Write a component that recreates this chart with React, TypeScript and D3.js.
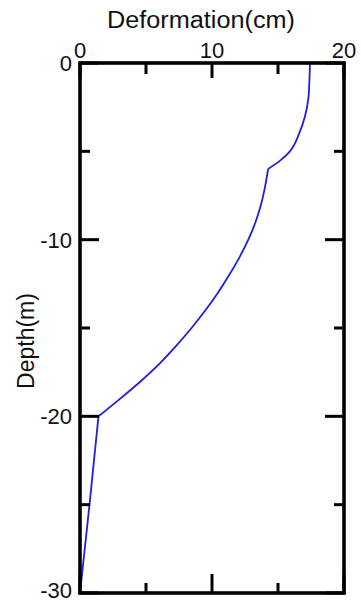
import React, { useEffect } from 'react'
import { scaleLinear, line, curveMonotoneY, curveLinear } from 'd3'

// depth (m) and horizontal deformation (cm)
const depths = [0, -1, -2, -3, -4, -5, -5.5, -6, -7, -8, -9, -10, -11, -12, -13, -14, -15, -16, -17, -18, -19, -20, -25, -30]
const deformation = [17.42, 17.38, 17.3, 17.05, 16.6, 15.9, 15.2, 14.25, 14.02, 13.72, 13.3, 12.75, 12.08, 11.3, 10.45, 9.5, 8.45, 7.3, 6.05, 4.62, 3.05, 1.4, 0.72, 0]

// depths where the profile changes slope abruptly (layer boundaries)
const breakDepths = [-6, -20]

const xTickLabels = [0, 10, 20]
const yTickLabels = [0, -10, -20, -30]

const xTitle = 'Deformation(cm)'
const yTitle = 'Depth(m)'

type Pt = { depth: number; def: number }

function App() {
  useEffect(() => {
    document.body.style.margin = '0'
  }, [])

  const width = 361
  const height = 604
  const margin = { top: 63, right: 17, bottom: 11, left: 80 }

  const xScale = scaleLinear().domain([0, 20]).range([margin.left, width - margin.right])
  const yScale = scaleLinear().domain([0, -30]).range([margin.top, height - margin.bottom])

  const points: Pt[] = depths.map((d, i) => ({ depth: d, def: deformation[i] }))

  // split at the break depths so the kinks stay sharp
  const segments: Pt[][] = []
  let cur: Pt[] = []
  points.forEach(p => {
    cur.push(p)
    if (breakDepths.includes(p.depth)) {
      segments.push(cur)
      cur = [p]
    }
  })
  if (cur.length > 1) segments.push(cur)

  const smooth = line<Pt>().x(d => xScale(d.def)).y(d => yScale(d.depth)).curve(curveMonotoneY)
  const straight = line<Pt>().x(d => xScale(d.def)).y(d => yScale(d.depth)).curve(curveLinear)

  const x0 = xScale(0), x1 = xScale(20)
  const y0 = yScale(0), y1 = yScale(-30)

  const xMinor = xScale.ticks(4) // 0,5,10,15,20
  const yMinor = yScale.ticks(6) // 0,-5,...,-30

  const font = 'Arial, "Liberation Sans", sans-serif'
  const axisStroke = '#000'
  const sw = 3.6

  return (
    <svg width={width} height={height} style={{ display: 'block', background: '#fff' }}>
      {/* curve */}
      <g fill="none" stroke="#1f1fe0" strokeWidth={1.8} strokeLinejoin="round">
        {segments.map((s, i) => (
          <path key={i} d={(i === segments.length - 1 ? straight(s) : smooth(s)) || ''} />
        ))}
      </g>

      {/* ticks */}
      <g stroke={axisStroke} strokeWidth={3}>
        {xMinor.map(t => {
          const major = t % 10 === 0
          return (
            <g key={'x' + t}>
              <line x1={xScale(t)} x2={xScale(t)} y1={y0} y2={y0 + (major ? 15 : 11)} />
              <line x1={xScale(t)} x2={xScale(t)} y1={y1} y2={y1 - (major ? 19 : 10)} />
            </g>
          )
        })}
        {yMinor.map(t => {
          const major = t % 10 === 0
          return (
            <g key={'y' + t}>
              <line x1={x0} x2={x0 + (major ? 19 : 10)} y1={yScale(t)} y2={yScale(t)} />
              <line x1={x1} x2={x1 - (major ? 19 : 10)} y1={yScale(t)} y2={yScale(t)} />
            </g>
          )
        })}
      </g>

      {/* frame */}
      <rect x={x0} y={y0} width={x1 - x0} height={y1 - y0} fill="none" stroke={axisStroke} strokeWidth={sw} />

      {/* tick labels */}
      <g fontFamily={font} fontSize={22} fill="#111">
        {xTickLabels.map(t => (
          <text key={'xl' + t} x={xScale(t)} y={58} textAnchor="middle">{t}</text>
        ))}
        {yTickLabels.map(t => (
          <text key={'yl' + t} x={72} y={Math.min(yScale(t), 590)} dy="0.36em" textAnchor="end">{t}</text>
        ))}
      </g>

      {/* axis titles */}
      <text x={201} y={28} textAnchor="middle" fontFamily={font} fontSize={23} fill="#111"
        textLength={188} lengthAdjust="spacingAndGlyphs">{xTitle}</text>
      <text transform="translate(34,341) rotate(-90)" textAnchor="middle" fontFamily={font} fontSize={23} fill="#111">{yTitle}</text>
    </svg>
  )
}

export default App
